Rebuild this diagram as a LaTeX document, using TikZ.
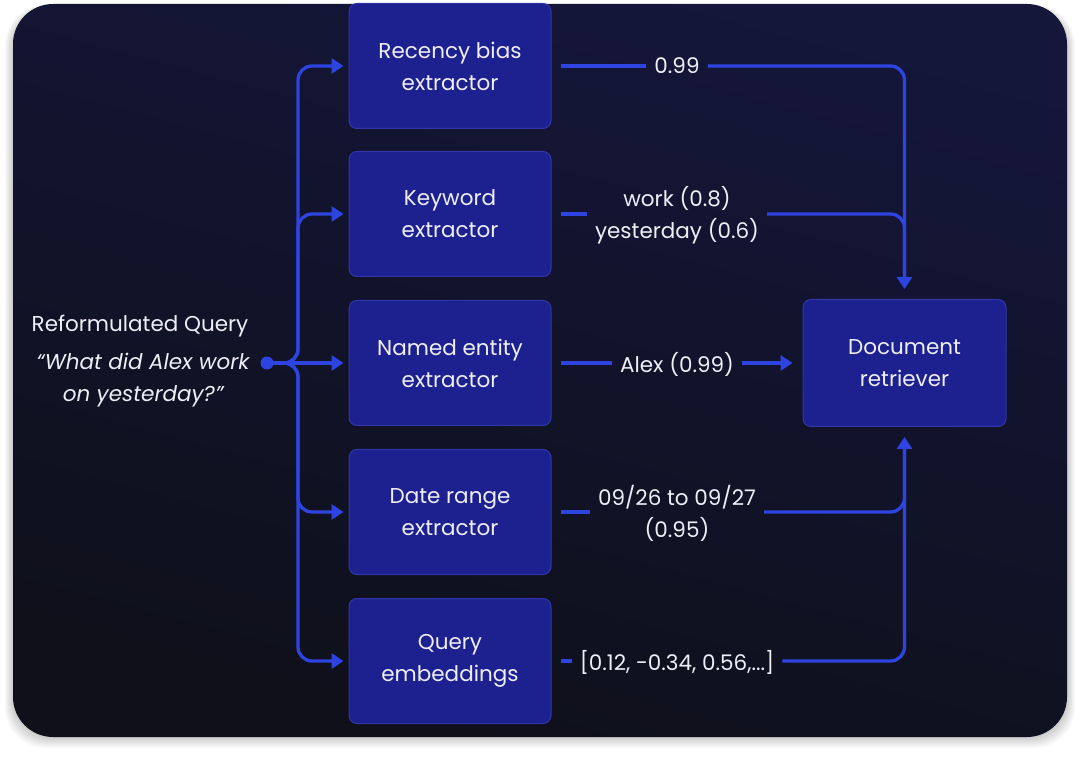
\documentclass[tikz,border=0pt]{standalone}
\usepackage{fontspec}
\setmainfont{Poppins}
\usetikzlibrary{arrows.meta,calc}
\definecolor{panelA}{HTML}{0F1019}
\definecolor{panelB}{HTML}{14163A}
\definecolor{boxfill}{HTML}{1D2190}
\definecolor{boxline}{HTML}{3036A8}
\definecolor{flowc}{HTML}{2E44E0}
\definecolor{txt}{HTML}{EEEEF6}
\begin{document}
\begin{tikzpicture}[x=1pt,y=-1pt,
  stepbox/.style={draw=boxline, line width=1pt, fill=boxfill, rounded corners=8pt,
    minimum width=202pt, minimum height=125pt, text=txt, align=center,
    font=\fontsize{21.5}{32}\selectfont},
  lbl/.style={text=txt, align=center, font=\fontsize{21.5}{32}\selectfont,
    inner xsep=8pt, inner ysep=0pt},
  flow/.style={draw=flowc, line width=3.3pt, rounded corners=14pt},
  tip/.style={-{Triangle[length=12pt,width=15pt]}}
]
\useasboundingbox (0,0) rectangle (1080,759);
\fill[white] (0,0) rectangle (1080,759);
% shadow
\foreach \i in {1,...,10}{
  \fill[black,opacity=0.02,rounded corners=40pt] (13-\i*0.8,4-\i*0.4+5) rectangle (1067+\i*0.8,737+\i*1.1);
}
% panel
\shade[rounded corners=40pt, top color=panelB, bottom color=panelA, shading angle=-15]
  (13,4) rectangle (1067,737);

% boxes
\node[stepbox] (rec) at (450,66) {Recency bias\\extractor};
\node[stepbox] (key) at (450,214) {Keyword\\extractor};
\node[stepbox] (ner) at (450,363) {Named entity\\extractor};
\node[stepbox] (dat) at (450,512) {Date range\\extractor};
\node[stepbox] (emb) at (450,661) {Query\\embeddings};
\node[stepbox, minimum width=203pt, minimum height=127pt] (ret) at (904.5,363) {Document\\retriever};

% query text
\node[lbl] (qt) at (140,326) {Reformulated Query};
\node[lbl, font=\fontsize{21.5}{32}\selectfont\itshape] (qq) at (143,380) {“What did Alex work\\on yesterday?”};
\node[circle, fill=flowc, minimum size=13pt, inner sep=0pt] (dot) at (267,363) {};
\coordinate (trunk) at (298,363);

% fork
\draw[flow,tip,shorten >=5pt] (dot.center) -- (trunk) |- (rec.west);
\draw[flow,tip,shorten >=5pt] (dot.center) -- (trunk) |- (key.west);
\draw[flow,tip,shorten >=5pt] (dot.center) -- (ner.west);
\draw[flow,tip,shorten >=5pt] (dot.center) -- (trunk) |- (dat.west);
\draw[flow,tip,shorten >=5pt] (dot.center) -- (trunk) |- (emb.west);

% labels
\node[lbl] (l1) at (677,66) {0.99};
\node[lbl] (l2) at (677,215) {work (0.8)\\yesterday (0.6)};
\node[lbl] (l3) at (677,364) {Alex (0.99)};
\node[lbl] (l4) at (677,513) {09/26 to 09/27\\(0.95)};
\node[lbl] (l5) at (677,662) {[0.12, -0.34, 0.56,...]};

% outputs
\draw[flow,shorten <=9pt] (rec.east) -- (rec.east -| l1.west);
\draw[flow,tip,shorten >=10pt] (rec.east -| l1.east) -| (ret.north);
\draw[flow,shorten <=9pt] (key.east) -- (key.east -| l2.west);
\draw[flow,shorten >=12pt] (key.east -| l2.east) -| (ret.north);
\draw[flow,shorten <=9pt] (ner.east) -- (ner.east -| l3.west);
\draw[flow,tip,shorten >=10pt] (ner.east -| l3.east) -- (ret.west);
\draw[flow,shorten <=9pt] (dat.east) -- (dat.east -| l4.west);
\draw[flow,shorten >=12pt] (dat.east -| l4.east) -| (ret.south);
\draw[flow,shorten <=9pt] (emb.east) -- (emb.east -| l5.west);
\draw[flow,tip,shorten >=10pt] (emb.east -| l5.east) -| (ret.south);
\end{tikzpicture}
\end{document}
